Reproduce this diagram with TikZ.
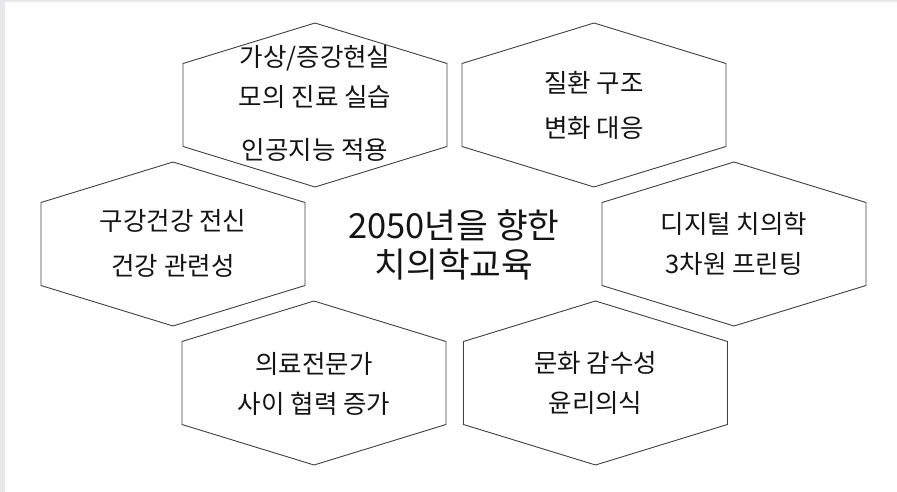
\documentclass[tikz,border=0pt]{standalone}
\usepackage{fontspec}
\setmainfont{Noto Sans CJK KR}
\definecolor{edgegray}{HTML}{E6E8EB}
\definecolor{hexline}{HTML}{404040}
\definecolor{txt}{HTML}{141414}
\tikzset{
  hexa/.pic={\draw[hexline, line width=0.9pt, line join=miter] (0,-82) -- (132,-41.5) -- (132,41.5) -- (0,82) -- (-132,41.5) -- (-132,-41.5) -- cycle;},
  hextext/.style={align=center, text=txt, inner sep=0pt, font=\fontsize{25.5}{42}\selectfont},
  maintext/.style={align=center, text=txt, inner sep=0pt, font=\fontsize{34.5}{39}\selectfont}
}
\begin{document}
\begin{tikzpicture}[x=1pt,y=-1pt]
\useasboundingbox (0,0) rectangle (897,492);
\fill[edgegray] (0,0) rectangle (897,492);
\fill[white] (4.5,2.3) rectangle (897,492);
\pic at (315,105) {hexa};
\pic at (594,105) {hexa};
\pic at (173,244) {hexa};
\pic at (734,244) {hexa};
\pic at (314,383) {hexa};
\pic at (595.5,383) {hexa};
\node[hextext, font=\fontsize{25.5}{40}\selectfont] (h1) at (315,103.5) {가상/증강현실\\모의 진료 실습\\[13pt]인공지능 적용};
\node[hextext, font=\fontsize{25.5}{45}\selectfont] (h2) at (594,105) {질환 구조\\변화 대응};
\node[hextext, font=\fontsize{25.5}{45}\selectfont] (h3) at (173,243.5) {구강건강 전신\\건강 관련성};
\node[hextext, font=\fontsize{25.5}{39.5}\selectfont] (h4) at (734,244) {디지털 치의학\\3차원 프린팅};
\node[hextext, font=\fontsize{25.5}{40}\selectfont] (h5) at (314,384) {의료전문가\\사이 협력 증가};
\node[hextext, font=\fontsize{25.5}{39.5}\selectfont] (h6) at (595.5,383) {문화 감수성\\윤리의식};
\node[maintext] (c) at (454,245) {2050년을 향한\\치의학교육};
\end{tikzpicture}
\end{document}
